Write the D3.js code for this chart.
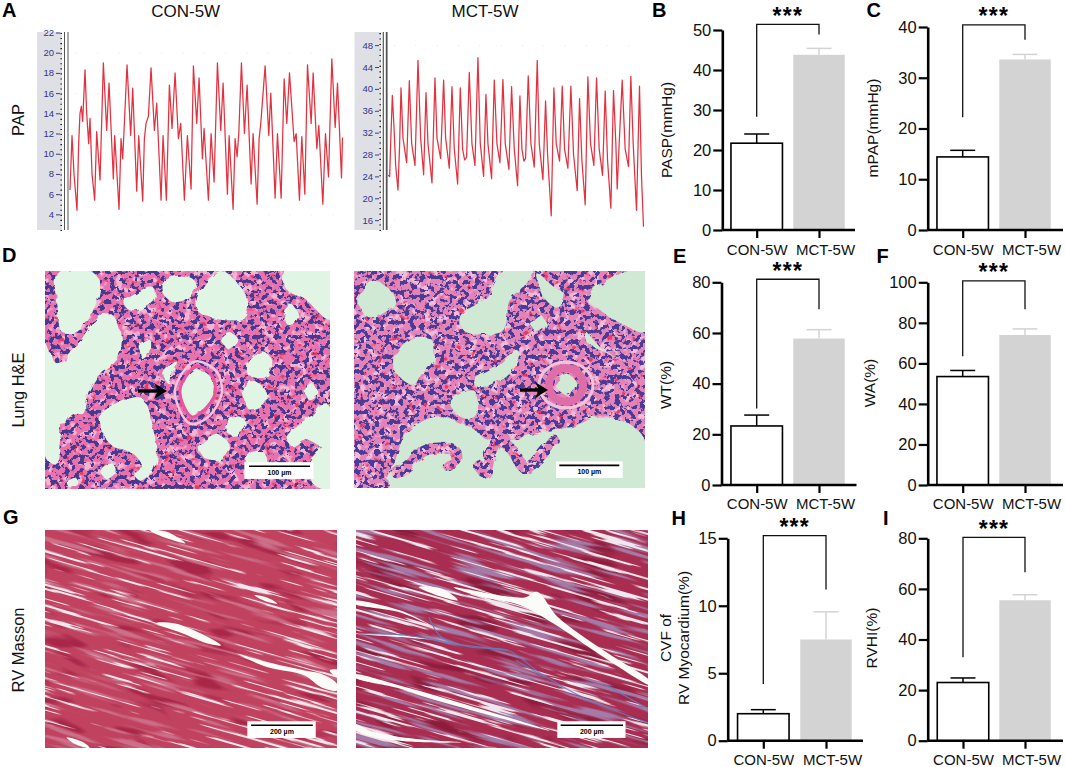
<!DOCTYPE html>
<html>
<head>
<meta charset="utf-8">
<script src="https://cdn.jsdelivr.net/npm/d3@7"></script>
<style>
  html, body { margin: 0; padding: 0; background: #fff; }
  svg { display: block; font-family: "Liberation Sans", Arial, sans-serif; }
</style>
</head>
<body>
<svg id="fig" width="1065" height="767"></svg>
<script>
// bar data: [CON-5W, MCT-5W]
const categories = ["CON-5W", "MCT-5W"];
const pasp = [21.7, 43.8], paspErr = [2.3, 1.6], paspTicks = [0, 10, 20, 30, 40, 50];
const mpap = [14.4, 33.6], mpapErr = [1.3, 1.0], mpapTicks = [0, 10, 20, 30, 40];
const wt = [23.3, 57.8], wtErr = [4.3, 3.5], wtTicks = [0, 20, 40, 60, 80];
const wa = [53.5, 74], waErr = [3.0, 3.0], waTicks = [0, 20, 40, 60, 80, 100];
const cvf = [2.0, 7.5], cvfErr = [0.3, 2.05], cvfTicks = [0, 5, 10, 15];
const rvhi = [23, 55.5], rvhiErr = [1.8, 2.2], rvhiTicks = [0, 20, 40, 60, 80];

// significance brackets in axis units: [left end, top, right end]
const paspBracket = [28.3, 51.4, 48.9];
const mpapBracket = [22.2, 40.4, 37.5];
const wtBracket = [30.2, 81.2, 69.4];
const waBracket = [63.5, 100.7, 86.7];
const cvfBracket = [4.2, 15.2, 11.2];
const rvhiBracket = [33, 80.4, 66.6];

// PAP traces
const conTime = [0,6,12,21,26,30,34,38,45,50,56,60,66,74,80,90,100,110,117,130,134,147,153,158,163,171,182,188,200,206,218,223,228,235,243,253,260,273,279,289,298,306,315,325,332,343,352,363,370,380,387,397,402,415,423,432,442,452,459,472,477,489,495,501,506,514,523,531,543,549,561,567,572,585,596,602,615,622,633,642,650,658,672,678,688,695,704,712,723,729,740,746,758,766,775,785,795,802,814,817];
const conPressure = [6.4,11.8,8,4.4,11,14,14.7,13.2,18.3,14,11,13.5,8,5.4,12.2,7.4,19,12.3,17,7.5,11.8,4.5,11.5,9.5,13,18.8,11.8,16.5,6.3,11.8,5.3,11.5,13,13.7,18.5,12.3,15,5.4,11.8,5.4,16.8,12.5,18,11.5,13,5.4,11.8,6.5,18.7,13,17.5,9.5,12.5,5.4,12,7.2,19,12.3,17,6,11.8,4.5,11.5,9.7,12,19,12,16.8,7,12,5,11.5,13,18.7,11.8,16,5.6,12,5.6,17.4,13,18,11.2,12,5.4,11.7,6,18.8,13,18,10.5,12.8,5,12,7.7,19.4,12.6,17,7.6,11.6];
const mctTime = [0,5,8,13,18,23,30,35,39,45,56,64,71,81,90,98,107,114,120,132,141,147,158,167,173,184,192,199,209,217,224,230,236,244,252,261,270,277,287,294,300,311,319,327,336,345,352,363,371,379,389,396,402,408,413,421,429,439,448,454,465,473,479,490,498,505,515,523,530,540,549,557,568,575,582,592,600,608,618,626,634,644,652,659,669,677,684,688,694,703,712,722,729,736,746,755,761,767];
const mctPressure = [24.2,24,30,38.8,33,26,21.5,30,40.2,31,26.5,41.5,30,26,45.2,31,24.3,39.3,30,22.8,42,31,27.3,41.6,31,25.5,40.4,29,22.6,40.2,29,27,27.5,43,30,26,45.7,30,24,39,30,23.6,41.6,30,26.5,41.7,30,25.3,40.4,29,22.3,38.7,29,26.8,27.3,42.4,30,25.7,45.2,30,23.4,37.8,28,16.8,40.2,30,26.8,40.5,29,25.5,40.5,28,21.4,38.2,27,18.8,42.2,30,26,42,29,24.2,39.6,27,18.2,39.7,30,21.7,30,41.6,29,25.8,42.3,30,17.8,40.5,24,14.8];
const conTicks = [4, 6, 8, 10, 12, 14, 16, 18, 20, 22];
const mctTicks = [16, 20, 24, 28, 32, 36, 40, 44, 48];

const svg = d3.select("#fig");
const defs = svg.append("defs");

function addNoise(id, freq, seed, octaves, color, slope, cut, box) {
  const f = defs.append("filter").attr("id", id)
    .attr("filterUnits", "userSpaceOnUse")
    .attr("x", box[0]).attr("y", box[1]).attr("width", box[2]).attr("height", box[3])
    .attr("color-interpolation-filters", "sRGB");
  f.append("feTurbulence").attr("type", "fractalNoise")
    .attr("baseFrequency", freq).attr("numOctaves", octaves).attr("seed", seed);
  const c = d3.rgb(color);
  f.append("feColorMatrix").attr("type", "matrix")
    .attr("values", `0 0 0 0 ${c.r / 255} 0 0 0 0 ${c.g / 255} 0 0 0 0 ${c.b / 255} 0 0 0 ${slope} ${cut}`);
  f.append("feGaussianBlur").attr("stdDeviation", 0.4);
}

const rough = defs.append("filter").attr("id", "rough").attr("x", "-10%").attr("y", "-10%").attr("width", "120%").attr("height", "120%");
rough.append("feTurbulence").attr("type", "fractalNoise").attr("baseFrequency", 0.09).attr("numOctaves", 2).attr("seed", 4).attr("result", "n");
rough.append("feDisplacementMap").attr("in", "SourceGraphic").attr("in2", "n").attr("scale", 7);

const blobLine = d3.line().curve(d3.curveCatmullRomClosed.alpha(0.5));
const openLine = d3.line().curve(d3.curveCatmullRom.alpha(0.5));

function toPoints(flat, src, box) {
  const pts = [];
  for (let i = 0; i < flat.length; i += 2) {
    pts.push([box[0] + (flat[i] - src[0]) / (src[1] - src[0]) * box[2],
              box[1] + (flat[i + 1] - src[2]) / (src[3] - src[2]) * box[3]]);
  }
  return pts;
}

function scaleBar(g, src, box, r, label) {
  const p = toPoints(r, src, box);
  g.append("rect").attr("x", p[0][0]).attr("y", p[0][1])
    .attr("width", p[1][0] - p[0][0]).attr("height", p[1][1] - p[0][1]).attr("fill", "#fff");
  g.append("line").attr("x1", p[2][0]).attr("x2", p[3][0]).attr("y1", p[2][1]).attr("y2", p[3][1])
    .attr("stroke", "#000").attr("stroke-width", 1.6);
  g.append("text").attr("x", (p[2][0] + p[3][0]) / 2).attr("y", p[1][1] - 4)
    .attr("text-anchor", "middle").attr("font-size", 7).attr("font-weight", "bold").text(label);
}

function arrow(g, a, b) {
  g.append("line").attr("x1", a[0]).attr("y1", a[1]).attr("x2", b[0] - 8).attr("y2", b[1])
    .attr("stroke", "#000").attr("stroke-width", 3.4);
  g.append("path").attr("d", `M${b[0]},${b[1]}L${b[0] - 13},${b[1] - 8}L${b[0] - 9},${b[1]}L${b[0] - 13},${b[1] + 8}Z`);
}

// lung sections: air spaces as outlines in crop coordinates
function lungPanel(id, box, src, airspaces, strands, colors) {
  const g = svg.append("g");
  const mask = defs.append("mask").attr("id", id + "-mask").attr("maskUnits", "userSpaceOnUse")
    .attr("x", box[0]).attr("y", box[1]).attr("width", box[2]).attr("height", box[3]);
  mask.append("rect").attr("x", box[0]).attr("y", box[1]).attr("width", box[2]).attr("height", box[3]).attr("fill", "#fff");
  const holes = mask.append("g").attr("filter", "url(#rough)");
  airspaces.forEach(a => holes.append("path").attr("d", blobLine(toPoints(a, src, box))).attr("fill", "#000"));
  strands.forEach(s => holes.append("path").attr("d", openLine(toPoints(s, src, box))).attr("fill", "none").attr("stroke", "#fff").attr("stroke-width", 11).attr("stroke-linecap", "round"));

  addNoise(id + "-pale", 0.13, 3, 2, colors.pale, 7, -3.7, box);
  addNoise(id + "-red", 0.14, 8, 2, "#ea3a62", 9, -5.9, box);
  addNoise(id + "-nuc", 0.2, 12, 3, colors.nuclei, 18, colors.cut, box);

  const rect = s => s.append("rect").attr("x", box[0]).attr("y", box[1]).attr("width", box[2]).attr("height", box[3]);
  rect(g).attr("fill", colors.air);
  const tissue = g.append("g").attr("mask", `url(#${id}-mask)`);
  rect(tissue).attr("fill", colors.tissue);
  rect(tissue).attr("filter", `url(#${id}-pale)`);
  rect(tissue).attr("filter", `url(#${id}-red)`);
  rect(tissue).attr("filter", `url(#${id}-nuc)`);
  return g;
}

// heart sections: fibres are stretched noise turned along the muscle direction
function musclePanel(id, box, src, tears, colors) {
  const g = svg.append("g");
  const clip = defs.append("clipPath").attr("id", id + "-clip");
  clip.append("rect").attr("x", box[0]).attr("y", box[1]).attr("width", box[2]).attr("height", box[3]);
  const inner = g.append("g").attr("clip-path", `url(#${id}-clip)`);
  inner.append("rect").attr("x", box[0]).attr("y", box[1]).attr("width", box[2]).attr("height", box[3]).attr("fill", colors.base);

  const big = [box[0] - 80, box[1] - 110, box[2] + 160, box[3] + 220];
  addNoise(id + "-dark", "0.02 0.08", 5, 2, colors.dark, 7, -4.1, big);
  addNoise(id + "-lilac", "0.014 0.2", 9, 2, colors.lilac, 7, colors.lilacCut, big);
  addNoise(id + "-streak", "0.011 0.3", 21, 3, "#f0e8ee", 16, colors.cut, big);
  const rot = inner.append("g").attr("transform", `rotate(16 ${box[0] + box[2] / 2} ${box[1] + box[3] / 2})`);
  ["dark", "lilac", "streak"].forEach(n => {
    rot.append("rect").attr("x", big[0]).attr("y", big[1]).attr("width", big[2]).attr("height", big[3])
      .attr("filter", `url(#${id}-${n})`);
  });
  tears.forEach(t => inner.append("path").attr("d", blobLine(toPoints(t, src, box))).attr("fill", "#fbfbf8"));
  return inner;
}

const lungLeftSrc = [135, 990, 65, 715];
const lungLeft = lungPanel("lungL", [45, 271, 285, 218], lungLeftSrc, [
  [175,65, 275,68, 300,100, 285,170, 240,240, 190,250, 170,170],
  [135,280, 170,340, 240,280, 300,200, 340,200, 365,260, 350,330, 300,370, 260,440, 250,490, 215,490, 190,530, 170,640, 135,620],
  [300,500, 330,470, 420,440, 460,540, 470,620, 450,670, 400,610, 330,580],
  [490,100, 530,80, 580,90, 590,120, 540,160, 495,140],
  [375,150, 460,115, 465,150, 420,180, 380,175],
  [590,150, 660,65, 720,110, 745,160, 730,205, 660,210, 600,190],
  [850,65, 990,65, 990,210, 910,145, 860,120],
  [540,420, 590,355, 630,380, 640,430, 610,475, 575,495],
  [745,340, 790,305, 820,340, 800,380, 745,375],
  [730,420, 760,395, 795,420, 795,460, 750,480],
  [680,525, 710,495, 740,520, 710,555, 685,550],
  [600,590, 650,550, 690,590, 660,630, 610,620],
  [860,560, 920,510, 980,460, 990,600, 920,570, 880,590],
  [910,420, 935,400, 955,430, 930,450],
  [665,270, 690,250, 715,270, 690,300],
  [850,190, 875,165, 895,200, 870,230],
  [420,290, 450,270, 450,310, 430,330],
  [300,655, 330,635, 350,660, 320,685],
  [400,665, 430,645, 445,670, 420,690],
  [200,690, 225,680, 235,700, 210,710],
  [930,630, 990,590, 990,715, 940,700],
  [745,610, 790,605, 800,640, 740,650],
  [490,370, 530,335, 505,400]
], [[190,535, 220,565, 245,575]], { air: "#e1f5e4", tissue: "#e872ae", pale: "#f4b5d3", nuclei: "#453a90", cut: -9.6 });

// vessel wall round the left lumen
lungLeft.append("path").attr("d", blobLine(toPoints([540,420, 590,350, 635,375, 645,430, 612,480, 575,500], lungLeftSrc, [45, 271, 285, 218])))
  .attr("fill", "none").attr("stroke", "#e9559f").attr("stroke-width", 3);
lungLeft.append("path").attr("d", blobLine(toPoints([525,420, 585,335, 650,365, 665,430, 625,500, 570,520], lungLeftSrc, [45, 271, 285, 218])))
  .attr("fill", "none").attr("stroke", "#f6c3dc").attr("stroke-width", 2.5);
arrow(lungLeft, [138, 391], [167, 391]);
scaleBar(lungLeft, lungLeftSrc, [45, 271, 285, 218], [733,635, 940,685, 747,647, 930,647], "100 µm");

const lungRightSrc = [42, 915, 33, 685];
const lungRight = lungPanel("lungR", [354, 271, 291, 217], lungRightSrc, [
  [55,130, 95,60, 150,90, 165,130, 130,160, 90,175],
  [360,170, 440,110, 490,35, 580,35, 560,70, 510,120, 490,210, 420,225, 370,210],
  [165,290, 215,235, 275,240, 280,300, 240,350, 220,375, 170,340],
  [590,40, 640,80, 670,100, 650,140, 610,110],
  [745,120, 800,60, 915,35, 915,215, 850,195, 780,150],
  [400,360, 480,310, 530,270, 540,290, 500,350, 420,385],
  [330,420, 400,390, 410,470, 380,480, 340,450],
  [200,520, 290,470, 360,490, 390,500, 450,540, 640,510, 700,500, 780,470, 860,490, 915,540, 915,690, 130,690, 160,620],
  [575,190, 600,165, 620,195, 590,215],
  [648,375, 680,342, 712,375, 680,408],
  [735,215, 790,270, 850,300, 780,270, 735,240]
], [
  [170,640, 200,620, 250,575, 300,565, 345,575, 350,600, 325,618],
  [415,615, 435,640, 450,590, 480,545, 520,575, 555,625, 600,590, 640,540],
  [50,640, 90,650, 130,670]
], { air: "#cfe9d4", tissue: "#e483b8", pale: "#f2bdd8", nuclei: "#4a3b96", cut: -9.4 });
lungRight.append("ellipse").attr("cx", 566).attr("cy", 385).attr("rx", 17).attr("ry", 17)
  .attr("fill", "none").attr("stroke", "#df6ea8").attr("stroke-width", 8);
lungRight.append("ellipse").attr("cx", 566).attr("cy", 385).attr("rx", 27).attr("ry", 23)
  .attr("fill", "none").attr("stroke", "#f3c3da").attr("stroke-width", 3);
arrow(lungRight, [520, 390], [548, 390]);
scaleBar(lungRight, lungRightSrc, [354, 271, 291, 217], [648,605, 848,655, 658,617, 838,617], "100 µm");

const heartLeftSrc = [108, 808, 60, 712];
const heartLeft = musclePanel("heartL", [45, 530, 292, 218], heartLeftSrc, [
  [360,62, 400,65, 445,100, 400,85],
  [375,338, 420,340, 490,375, 530,405, 500,400, 440,370],
  [570,430, 640,455, 730,480, 770,490, 808,520, 808,540, 770,530, 730,495, 640,470],
  [610,255, 640,262, 665,280, 635,272],
  [160,680, 200,695, 215,712, 180,700],
  [790,480, 815,480, 815,505]
], { base: "#c0425f", dark: "#a82748", lilac: "#cc6f88", lilacCut: -3.9, cut: -10.1 });
scaleBar(heartLeft, heartLeftSrc, [45, 530, 292, 218], [593,632, 757,682, 602,644, 750,644], "200 µm");

const heartRightSrc = [855, 1557, 60, 712];
const heartRightBox = [356, 530, 292, 218];
const heartRight = musclePanel("heartR", heartRightBox, heartRightSrc, [
  [1005,230, 1060,235, 1100,270, 1060,260],
  [1090,232, 1260,262, 1290,245, 1340,320, 1450,420, 1565,515, 1565,525, 1450,440, 1330,340, 1250,285, 1150,258],
  [850,272, 960,300, 1040,348, 960,306, 850,280],
  [850,370, 960,375, 1040,388, 960,380],
  [850,492, 960,525, 1060,560, 1220,620, 1320,660, 1200,622, 1060,574, 960,534, 850,500],
  [850,640, 900,665, 1000,685, 1110,695, 1000,694, 900,680, 850,655]
], { base: "#a82d50", dark: "#8c1c3c", lilac: "#a47aa6", lilacCut: -3.7, cut: -9.5 });
[
  [1030,320, 1060,380, 1130,410, 1220,420, 1300,490, 1400,560, 1565,640],
  [860,370, 980,375, 1090,400, 1220,420],
  [1240,450, 1310,500],
  [1450,520, 1565,600]
].forEach(b => {
  heartRight.append("path").attr("d", openLine(toPoints(b, heartRightSrc, heartRightBox)))
    .attr("fill", "none").attr("stroke", "#5f7fc0").attr("stroke-width", 1.2).attr("opacity", 0.85);
});
scaleBar(heartRight, heartRightSrc, heartRightBox, [1339,632, 1503,682, 1347,644, 1497,644], "200 µm");

// PAP traces
function tracePanel(layout, times, pressure, ticks, minorStep) {
  const y = d3.scaleLinear().domain(layout.yDomain).range(layout.yRange);
  const x = d3.scaleLinear().domain(d3.extent(times)).range(layout.xRange);
  const g = svg.append("g");
  g.append("rect").attr("x", layout.strip[0]).attr("y", layout.top)
    .attr("width", layout.strip[1] - layout.strip[0]).attr("height", layout.bottom - layout.top).attr("fill", "#dfdfe6");

  // faint grid dots
  const gridT = d3.range(d3.min(times) + 18, d3.max(times), 64);
  ticks.filter((d, i) => i % 2 === 0).forEach(v => {
    g.selectAll(null).data(gridT).join("rect")
      .attr("x", d => x(d)).attr("y", y(v)).attr("width", 1).attr("height", 1).attr("fill", "#e4e4e4");
  });

  const minor = d3.range(layout.yDomain[0], layout.yDomain[1], minorStep);
  const minorAxis = d3.axisLeft(y).tickValues(minor).tickSize(1.6).tickFormat("");
  const gm = g.append("g").attr("transform", `translate(${layout.strip[1]},0)`).call(minorAxis);
  gm.select(".domain").remove();
  gm.selectAll("line").attr("stroke", "#222").attr("stroke-width", 1.1);

  const majorAxis = d3.axisLeft(y).tickValues(ticks).tickSize(4).tickPadding(2);
  const ga = g.append("g").attr("transform", `translate(${layout.strip[1] - 2},0)`).call(majorAxis);
  ga.select(".domain").remove();
  ga.selectAll("line").attr("stroke", "#3d3d80");
  ga.selectAll("text").attr("fill", "#34348c").attr("font-size", 9.5)
    .attr("font-family", "'Liberation Sans', Arial, sans-serif");

  layout.rails.forEach(r => {
    g.append("line").attr("x1", r[0]).attr("x2", r[0]).attr("y1", layout.top).attr("y2", layout.bottom)
      .attr("stroke", "#555").attr("stroke-width", r[1]);
  });

  g.append("path").datum(times.map((t, i) => [t, pressure[i]]))
    .attr("d", d3.line().x(d => x(d[0])).y(d => y(d[1])))
    .attr("fill", "none").attr("stroke", "#e2323f").attr("stroke-width", 1.25).attr("stroke-linejoin", "round");
}

tracePanel({ strip: [37, 62], top: 32, bottom: 230, xRange: [70, 342.5],
  yDomain: [2.45, 22.05], yRange: [230, 32], rails: [[64.5, 1], [68, 1]] }, conTime, conPressure, conTicks, 0.5);
tracePanel({ strip: [354.5, 381], top: 32, bottom: 230, xRange: [388, 643.5],
  yDomain: [14.2, 50.4], yRange: [230, 32], rails: [[383.3, 1.2], [386.7, 1.8]] }, mctTime, mctPressure, mctTicks, 1);

// bar panels
function barPanel(layout, values, errors, ticks, bracket, yLabels) {
  const y = d3.scaleLinear().domain([0, d3.max(ticks)]).range([layout.y0, layout.yTop]);
  const x = d3.scalePoint().domain(categories).range(layout.xTicks);
  const g = svg.append("g");
  const barW = 51.5, capW = 25;

  g.selectAll(".err").data(categories).join("g").each(function (c, i) {
    const e = d3.select(this);
    const col = i === 0 ? "#000" : "#d3d3d3";
    e.append("line").attr("x1", x(c)).attr("x2", x(c)).attr("y1", y(values[i])).attr("y2", y(values[i] + errors[i]))
      .attr("stroke", col).attr("stroke-width", 1.5);
    e.append("line").attr("x1", x(c) - capW / 2).attr("x2", x(c) + capW / 2)
      .attr("y1", y(values[i] + errors[i])).attr("y2", y(values[i] + errors[i]))
      .attr("stroke", col).attr("stroke-width", 1.5);
  });

  g.selectAll(".bar").data(categories).join("rect")
    .attr("x", c => x(c) - barW / 2).attr("width", barW)
    .attr("y", (c, i) => y(values[i])).attr("height", (c, i) => layout.y0 - y(values[i]))
    .attr("fill", (c, i) => i === 0 ? "#fff" : "#d3d3d3")
    .attr("stroke", (c, i) => i === 0 ? "#000" : "none").attr("stroke-width", 1.6);

  const axY = g.append("g").attr("transform", `translate(${layout.axisX},0)`)
    .call(d3.axisLeft(y).tickValues(ticks).tickSize(9).tickPadding(2).tickSizeOuter(0));
  axY.select(".domain").attr("stroke-width", 2.6);
  axY.selectAll("line").attr("stroke-width", 2.2);
  axY.selectAll("text").attr("font-size", 16.5).attr("fill", "#111")
    .attr("font-family", "'Liberation Sans', Arial, sans-serif");

  const axX = g.append("g").attr("transform", `translate(0,${layout.y0})`)
    .call(d3.axisBottom(x).tickSize(8).tickPadding(4).tickSizeOuter(0));
  axX.select(".domain").attr("d", `M${layout.axisX},0H${layout.xEnd}`).attr("stroke-width", 2.4);
  axX.selectAll("line").attr("stroke-width", 2.2);
  axX.selectAll("text").attr("font-size", 15).attr("fill", "#111").attr("y", 0).attr("dy", 0)
    .attr("x", (c, i) => i === 1 ? 6 : 0)
    .attr("transform", `translate(0,${layout.catBase - layout.y0})`)
    .attr("font-family", "'Liberation Sans', Arial, sans-serif");

  // significance bracket
  g.append("path")
    .attr("d", `M${x(categories[0])},${y(bracket[0])}V${y(bracket[1])}H${x(categories[1])}V${y(bracket[2])}`)
    .attr("fill", "none").attr("stroke", "#111").attr("stroke-width", 1.3);
  g.append("text").attr("x", d3.mean(layout.xTicks)).attr("y", y(bracket[1]) - 0.5)
    .attr("text-anchor", "middle").attr("font-size", 23).attr("font-weight", "bold").attr("letter-spacing", 1.2).text("***");

  yLabels.forEach((l, i) => {
    g.append("text").attr("transform", `translate(${layout.labelX[i]},${layout.labelY}) rotate(-90)`)
      .attr("text-anchor", "middle").attr("font-size", 15.5).attr("fill", "#111").text(l);
  });
}

barPanel({ axisX: 722.3, y0: 230, yTop: 30, xTicks: [756.7, 819], xEnd: 855, catBase: 255, labelX: [672], labelY: 130 },
  pasp, paspErr, paspTicks, paspBracket, ["PASP(mmHg)"]);
barPanel({ axisX: 927.7, y0: 230, yTop: 27, xTicks: [962.7, 1025], xEnd: 1063, catBase: 255, labelX: [878], labelY: 128 },
  mpap, mpapErr, mpapTicks, mpapBracket, ["mPAP(mmHg)"]);
barPanel({ axisX: 721.5, y0: 485, yTop: 282.3, xTicks: [756.7, 819], xEnd: 856.5, catBase: 509, labelX: [671], labelY: 385 },
  wt, wtErr, wtTicks, wtBracket, ["WT(%)"]);
barPanel({ axisX: 927.7, y0: 485, yTop: 282.3, xTicks: [962.7, 1025], xEnd: 1063, catBase: 509, labelX: [875], labelY: 383 },
  wa, waErr, waTicks, waBracket, ["WA(%)"]);
barPanel({ axisX: 727.7, y0: 740.7, yTop: 538.3, xTicks: [763.3, 826], xEnd: 863, catBase: 765, labelX: [671, 689], labelY: 638 },
  cvf, cvfErr, cvfTicks, cvfBracket, ["CVF of", "RV Myocardium(%)"]);
barPanel({ axisX: 927.7, y0: 740.7, yTop: 538.3, xTicks: [963, 1025], xEnd: 1063, catBase: 765, labelX: [877], labelY: 638 },
  rvhi, rvhiErr, rvhiTicks, rvhiBracket, ["RVHI(%)"]);

// titles, row labels and panel letters
const titles = [["CON-5W", 185.7, 17], ["MCT-5W", 485, 17]];
svg.selectAll(".title").data(titles).join("text")
  .attr("x", d => d[1]).attr("y", d => d[2]).attr("text-anchor", "middle").attr("font-size", 17).attr("fill", "#111").text(d => d[0]);

const rowLabels = [["PAP", 24, 120], ["Lung H&E", 24, 390], ["RV Masson", 24, 650]];
svg.selectAll(".row").data(rowLabels).join("text")
  .attr("transform", d => `translate(${d[1]},${d[2]}) rotate(-90)`).attr("text-anchor", "middle")
  .attr("font-size", 16.5).attr("fill", "#111").text(d => d[0]);

const letters = [["A", 2, 17], ["B", 652, 17], ["C", 866.5, 17], ["D", 2, 262], ["E", 673, 263], ["F", 876.5, 263], ["G", 3, 524], ["H", 671.5, 525], ["I", 883, 525]];
svg.selectAll(".letter").data(letters).join("text")
  .attr("x", d => d[1]).attr("y", d => d[2]).attr("font-size", 20).attr("font-weight", "bold").attr("fill", "#000").text(d => d[0]);
</script>
</body>
</html>
